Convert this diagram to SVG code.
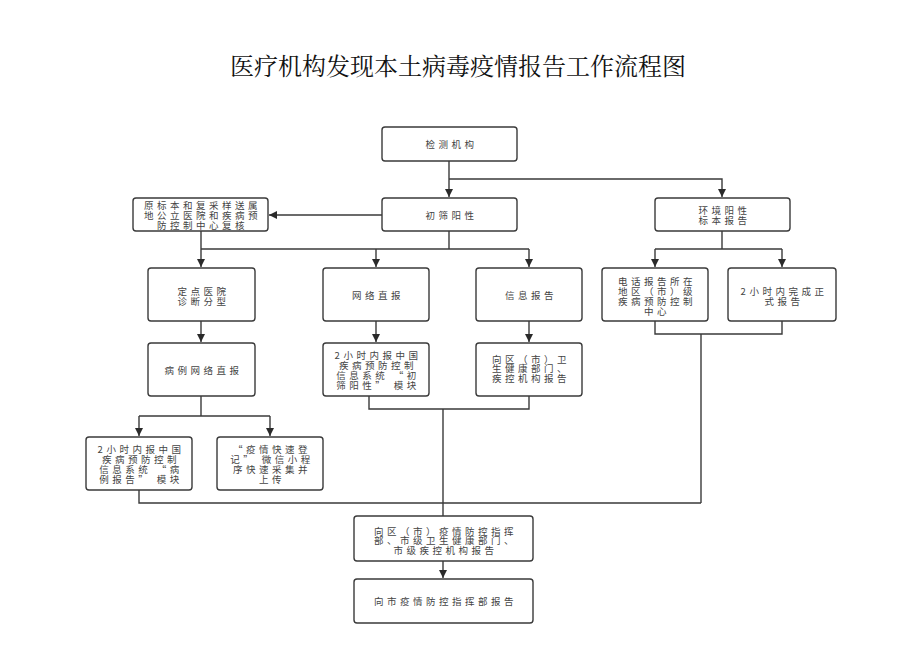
<svg xmlns="http://www.w3.org/2000/svg" width="920" height="651" viewBox="0 0 920 651">
<style>
.bg{fill:#fff}
.box{fill:#fff;stroke:#3a3a3a;stroke-width:1.4}
.t{font-family:"Noto Sans CJK SC","Noto Sans",sans-serif;font-size:9.5px;letter-spacing:3.5px;fill:#444;text-anchor:middle;dominant-baseline:central}
.title{font-family:"Noto Serif CJK SC","Liberation Serif","Noto Sans CJK SC",serif;font-size:24px;fill:#111;text-anchor:middle;dominant-baseline:central}
.c{fill:none;stroke:#3a3a3a;stroke-width:1.4}
</style>
<defs>
<marker id="ah" markerUnits="userSpaceOnUse" markerWidth="10" markerHeight="10" refX="8" refY="4" orient="auto">
<path d="M0,0 L8,4 L0,8 Z" fill="#2a2a2a"/>
</marker>
</defs>
<rect class="bg" x="0" y="0" width="920" height="651"/>
<text class="title" x="458" y="64">医疗机构发现本土病毒疫情报告工作流程图</text>

<g id="connectors">
<path class="c" d="M449,161 V197" marker-end="url(#ah)"/>
<path class="c" d="M449,179 H722 V197" marker-end="url(#ah)"/>
<path class="c" d="M382,215 H269" marker-end="url(#ah)"/>
<path class="c" d="M449,231 V249"/>
<path class="c" d="M201,231 V249"/>
<path class="c" d="M201,249 H529"/>
<path class="c" d="M201,249 V267" marker-end="url(#ah)"/>
<path class="c" d="M376,249 V267" marker-end="url(#ah)"/>
<path class="c" d="M529,249 V267" marker-end="url(#ah)"/>
<path class="c" d="M201,321 V342" marker-end="url(#ah)"/>
<path class="c" d="M376,321 V342" marker-end="url(#ah)"/>
<path class="c" d="M529,321 V342" marker-end="url(#ah)"/>
<path class="c" d="M722,231 V249"/>
<path class="c" d="M655,249 H782"/>
<path class="c" d="M655,249 V267" marker-end="url(#ah)"/>
<path class="c" d="M782,249 V267" marker-end="url(#ah)"/>
<path class="c" d="M655,321 V334 H782 V321"/>
<path class="c" d="M701,334 V503"/>
<path class="c" d="M201,396 V416"/>
<path class="c" d="M139,416 H270"/>
<path class="c" d="M139,416 V436" marker-end="url(#ah)"/>
<path class="c" d="M270,416 V436" marker-end="url(#ah)"/>
<path class="c" d="M369,396 V409 H529 V396"/>
<path class="c" d="M443,409 V516"/>
<path class="c" d="M139,490 V503 H701"/>
<path class="c" d="M443,561 V578" marker-end="url(#ah)"/>
</g>

<g id="n1"><rect class="box" x="382" y="127" width="135" height="34" rx="3"/><text class="t" x="451.5" y="144">检测机构</text></g>
<g id="n2"><rect class="box" x="382" y="198" width="135" height="33" rx="3"/><text class="t" x="451.5" y="214.5">初筛阳性</text></g>
<g id="n3"><rect class="box" x="133" y="198" width="135" height="33" rx="3"/>
<text class="t"><tspan x="202.5" y="205.3">原标本和复采样送属</tspan><tspan x="202.5" y="215">地公立医院和疾病预</tspan><tspan x="202.5" y="224.7">防控制中心复核</tspan></text></g>
<g id="n4"><rect class="box" x="655" y="198" width="135" height="33" rx="3"/>
<text class="t"><tspan x="724.5" y="210">环境阳性</tspan><tspan x="724.5" y="219.7">标本报告</tspan></text></g>
<g id="n5"><rect class="box" x="148" y="268" width="107" height="53" rx="3"/>
<text class="t"><tspan x="203.5" y="290.5">定点医院</tspan><tspan x="203.5" y="301">诊断分型</tspan></text></g>
<g id="n6"><rect class="box" x="323" y="268" width="106" height="53" rx="3"/><text class="t" x="378" y="295">网络直报</text></g>
<g id="n7"><rect class="box" x="476" y="268" width="106" height="53" rx="3"/><text class="t" x="531" y="295">信息报告</text></g>
<g id="n8"><rect class="box" x="602" y="268" width="106" height="53" rx="3"/>
<text class="t"><tspan x="657" y="281">电话报告所在</tspan><tspan x="657" y="291">地区（市）级</tspan><tspan x="657" y="301">疾病预防控制</tspan><tspan x="657" y="310.5">中心</tspan></text></g>
<g id="n9"><rect class="box" x="728" y="268" width="108" height="53" rx="3"/>
<text class="t"><tspan x="784" y="291">2小时内完成正</tspan><tspan x="784" y="301">式报告</tspan></text></g>
<g id="n10"><rect class="box" x="148" y="343" width="107" height="53" rx="3"/><text class="t" x="203.5" y="370">病例网络直报</text></g>
<g id="n11"><rect class="box" x="323" y="343" width="106" height="53" rx="3"/>
<text class="t"><tspan x="378" y="355">2小时内报中国</tspan><tspan x="378" y="365">疾病预防控制</tspan><tspan x="378" y="375">信息系统 “初</tspan><tspan x="378" y="385">筛阳性” 模块</tspan></text></g>
<g id="n12"><rect class="box" x="476" y="343" width="106" height="53" rx="3"/>
<text class="t"><tspan x="531" y="358.5">向区（市）卫</tspan><tspan x="531" y="368.2">生健康部门、</tspan><tspan x="531" y="378">疾控机构报告</tspan></text></g>
<g id="n13"><rect class="box" x="86" y="437" width="106" height="53" rx="3"/>
<text class="t"><tspan x="141" y="449">2小时内报中国</tspan><tspan x="141" y="459">疾病预防控制</tspan><tspan x="141" y="469">信息系统 “病</tspan><tspan x="141" y="479">例报告” 模块</tspan></text></g>
<g id="n14"><rect class="box" x="217" y="437" width="106" height="53" rx="3"/>
<text class="t"><tspan x="272" y="449">“疫情快速登</tspan><tspan x="272" y="459">记” 微信小程</tspan><tspan x="272" y="469">序快速采集并</tspan><tspan x="272" y="479">上传</tspan></text></g>
<g id="n15"><rect class="box" x="354" y="516" width="179" height="45" rx="3"/>
<text class="t"><tspan x="445.5" y="530.5">向区（市）疫情防控指挥</tspan><tspan x="445.5" y="540.2">部、市级卫生健康部门、</tspan><tspan x="445.5" y="550">市级疾控机构报告</tspan></text></g>
<g id="n16"><rect class="box" x="354" y="579" width="179" height="44" rx="3"/><text class="t" x="445.5" y="601">向市疫情防控指挥部报告</text></g>
</svg>
